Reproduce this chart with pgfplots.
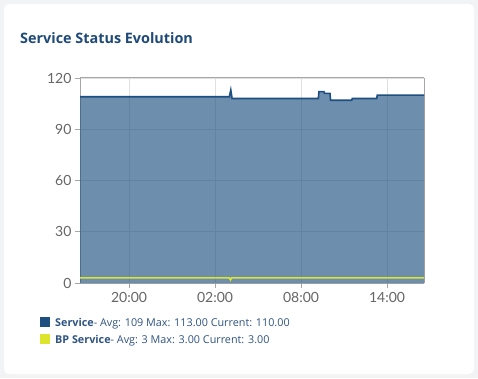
\documentclass[border=0pt]{standalone}
\usepackage{pgfplots}
\pgfplotsset{compat=1.18}
\usepackage{fontspec}
\setmainfont{Lato}
\newfontfamily\osans{Open Sans}
\definecolor{bgout}{HTML}{F2F3F5}
\definecolor{svc}{HTML}{1D4F80}
\definecolor{bp}{HTML}{DDE42E}
\definecolor{tick}{HTML}{666666}
\definecolor{titlec}{HTML}{1F4A78}
\definecolor{legc}{HTML}{2F5482}
\begin{document}
\begin{tikzpicture}
\fill[bgout] (0pt,0pt) rectangle (478pt,378pt);
\fill[white,rounded corners=5pt] (4pt,4pt) rectangle (474pt,374pt);
\node[anchor=base west,font=\osans\fontsize{14.4}{16}\selectfont\bfseries,text=titlec,inner sep=0] at (20pt,334pt) {Service Status Evolution};
\begin{axis}[
  at={(80pt,95pt)}, anchor=south west,
  scale only axis, width=344pt, height=205pt,
  xmin=16.58, xmax=40.58, ymin=0, ymax=120,
  xtick={20,26,32,38}, xticklabels={20:00,02:00,08:00,14:00},
  ytick={0,30,60,90,120},
  grid=major, major grid style={draw=black!12, line width=0.8pt},
  axis line style={draw=black!12, line width=1pt},
  separate axis lines,
  x axis line style={draw=black!35},
  y axis line style={draw=black!35},
  tick style={draw=black!35, line width=0.8pt},
  tick align=outside, major tick length=5pt,
  xtick pos=bottom, ytick pos=left,
  ticklabel style={font=\fontsize{14}{16}\selectfont, text=tick},
  /pgf/number format/assume math mode=true,
  xticklabel style={yshift=-1pt},
  clip=true,
]
\addplot[draw=none, fill=svc, fill opacity=0.64] coordinates {
(16.58,109) (27.0,109) (27.10,113) (27.19,108) (33.21,108) (33.25,112) (33.60,112) (33.64,111) (34.02,111) (34.06,107) (35.54,107) (35.58,108) (37.28,108) (37.32,110) (40.58,110)
} \closedcycle;
\addplot[draw=svc, line width=1.6pt] coordinates {
(16.58,109) (27.0,109) (27.10,113) (27.19,108) (33.21,108) (33.25,112) (33.60,112) (33.64,111) (34.02,111) (34.06,107) (35.54,107) (35.58,108) (37.28,108) (37.32,110) (40.58,110)
};
\addplot[draw=bp, line width=1.6pt] coordinates {
(16.58,3) (27.0,3) (27.08,1.8) (27.16,3) (40.58,3)
};
\end{axis}
\fill[svc] (40pt,51pt) rectangle (50pt,61pt);
\node[anchor=base west,inner sep=0,font=\osans\fontsize{10.8}{12}\selectfont,text=legc] at (55pt,52pt) {\textbf{Service}- Avg: 109 Max: 113.00 Current: 110.00};
\fill[bp] (40pt,34pt) rectangle (50pt,44pt);
\node[anchor=base west,inner sep=0,font=\osans\fontsize{10.8}{12}\selectfont,text=legc] at (55pt,35pt) {\textbf{BP Service}- Avg: 3 Max: 3.00 Current: 3.00};
\end{tikzpicture}
\end{document}
